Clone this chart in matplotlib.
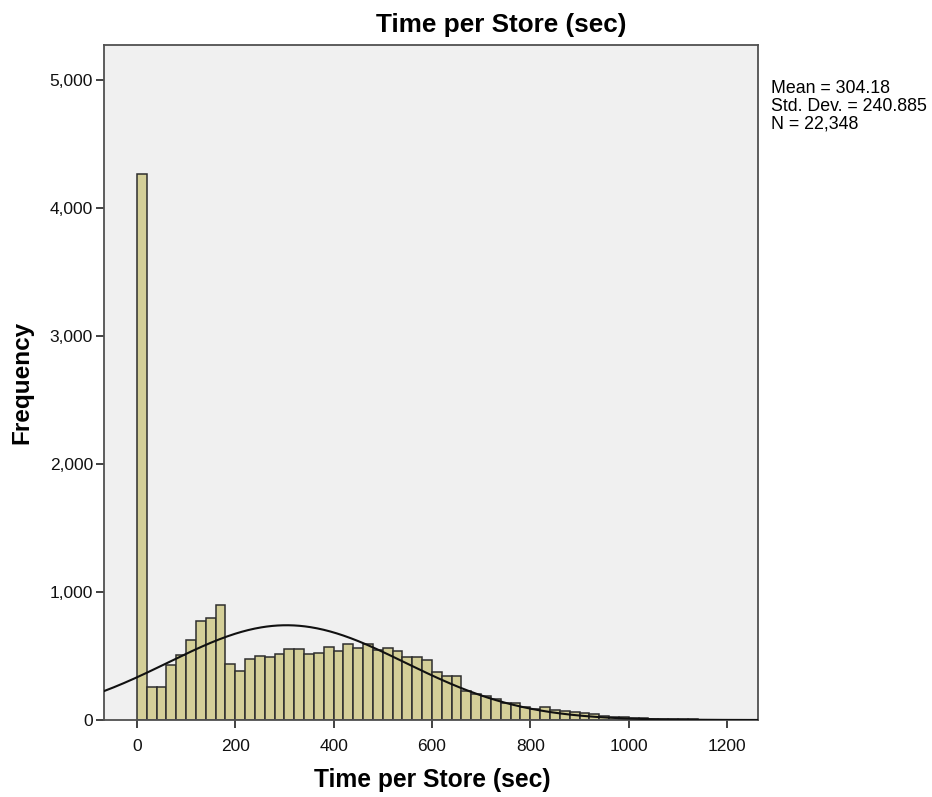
import numpy as np
import matplotlib
matplotlib.use("Agg")
import matplotlib.pyplot as plt
from matplotlib.ticker import FuncFormatter

# Histogram data (bin width 20 sec, starting at 0)
bin_edges_start = 0
bin_width = 20
counts = [4265, 260, 260, 430, 508, 625, 773, 794, 898, 435,
          383, 477, 500, 490, 513, 552, 557, 516, 521, 573,
          542, 591, 565, 591, 547, 565, 542, 490, 495, 469,
          378, 344, 346, 227, 201, 188, 161, 135, 130, 104,
          86, 100, 78, 73, 65, 57, 47, 34, 26, 21,
          15, 12, 10, 8, 6, 5, 4, 3, 2, 2, 1, 1]
mean_val = 304.18
std_val = 240.885
n_val = 22348
x_ticks = [0, 200, 400, 600, 800, 1000, 1200]
y_ticks = [0, 1000, 2000, 3000, 4000, 5000]

plt.rcParams['font.family'] = ['Liberation Sans', 'DejaVu Sans']

fig = plt.figure(figsize=(9.32, 7.97), dpi=100)
ax = fig.add_axes([104/932, 1-720/797, (758-104)/932, (720-45)/797])
ax.set_facecolor('#F0F0F0')

lefts = np.arange(len(counts)) * bin_width + bin_edges_start
ax.bar(lefts, counts, width=bin_width, align='edge', color='#D4CF98',
       edgecolor='#2E2E2E', linewidth=1.1, zorder=2)

xlim = (-67, 1263)
xs = np.linspace(xlim[0], xlim[1], 600)
ys = n_val * bin_width / (std_val * np.sqrt(2*np.pi)) * np.exp(-0.5*((xs-mean_val)/std_val)**2)
ax.plot(xs, ys, color='#111111', linewidth=1.5, zorder=3)

ax.set_xlim(*xlim)
ax.set_ylim(0, 5273)
ax.set_xticks(x_ticks)
ax.set_yticks(y_ticks)
ax.yaxis.set_major_formatter(FuncFormatter(lambda v, p: f"{int(v):,}"))
ax.tick_params(axis='both', direction='out', length=6, width=1.3, color='#333333',
               labelsize=12.5, labelcolor='#111111')
ax.tick_params(axis='x', pad=8)
ax.tick_params(axis='y', pad=2)
for s in ax.spines.values():
    s.set_color('#505050')
    s.set_linewidth(1.3)

fig.text(432/932, 1-780/797, 'Time per Store (sec)', ha='center', va='center',
         fontsize=17.7, fontweight='bold')
fig.text(22/932, 1-382/797, 'Frequency', ha='center', va='center', rotation=90,
         fontsize=17.5, fontweight='bold')
fig.text(501/932, 1-25/797, 'Time per Store (sec)', ha='center', va='center',
         fontsize=18.8, fontweight='bold')
fig.text(771/932, 1-80/797, f'Mean = {mean_val}\nStd. Dev. = {std_val}\nN = {n_val:,}',
         ha='left', va='top', fontsize=12.8, linespacing=1.05)

fig.savefig('out.png', dpi=100, facecolor='white')
